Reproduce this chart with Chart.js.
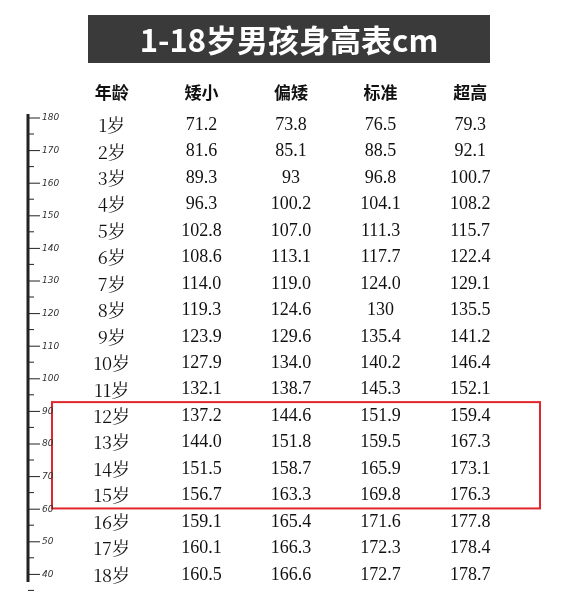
<!DOCTYPE html>
<html><head><meta charset="utf-8">
<script src="https://cdn.jsdelivr.net/npm/chart.js@4"></script>
<style>body{margin:0;background:#fff}#c{display:block}</style>
</head><body>
<div style="width:582px;height:600px"><canvas id="c"></canvas></div>
<script>
const columns = ["年龄", "矮小", "偏矮", "标准", "超高"];
const ages = ["1岁","2岁","3岁","4岁","5岁","6岁","7岁","8岁","9岁","10岁","11岁","12岁","13岁","14岁","15岁","16岁","17岁","18岁"];
const short = ["71.2","81.6","89.3","96.3","102.8","108.6","114.0","119.3","123.9","127.9","132.1","137.2","144.0","151.5","156.7","159.1","160.1","160.5"];
const lower = ["73.8","85.1","93","100.2","107.0","113.1","119.0","124.6","129.6","134.0","138.7","144.6","151.8","158.7","163.3","165.4","166.3","166.6"];
const standard = ["76.5","88.5","96.8","104.1","111.3","117.7","124.0","130","135.4","140.2","145.3","151.9","159.5","165.9","169.8","171.6","172.3","172.7"];
const tall = ["79.3","92.1","100.7","108.2","115.7","122.4","129.1","135.5","141.2","146.4","152.1","159.4","167.3","173.1","176.3","177.8","178.4","178.7"];
const rulerTicks = [180,170,160,150,140,130,120,110,100,90,80,70,60,50,40];
const highlightRows = ["12岁", "15岁"];

const cells = [];
ages.forEach((r, i) => {
  [ages[i], short[i], lower[i], standard[i], tall[i]].forEach((v, j) => cells.push({x: columns[j], y: r, t: v}));
});

const tablePlugin = {
  id: "table",
  afterDatasetsDraw(chart) {
    const ctx = chart.ctx, xs = chart.scales.x, ys = chart.scales.y;
    ctx.save();
    // title banner
    ctx.fillStyle = "#3a3a3a";
    ctx.fillRect(88, 15, 402, 48);
    ctx.fillStyle = "#fff";
    ctx.font = "bold 31px 'Noto Sans CJK SC'";
    ctx.textAlign = "center"; ctx.textBaseline = "middle";
    ctx.fillText("1-18岁男孩身高表cm", 289, 40);
    // header
    ctx.fillStyle = "#111";
    ctx.font = "bold 17px 'Noto Sans CJK SC'";
    columns.forEach((c, j) => ctx.fillText(c, xs.getPixelForValue(j), 93));
    // cells
    cells.forEach(c => {
      const px = xs.getPixelForValue(columns.indexOf(c.x));
      const py = ys.getPixelForValue(ages.indexOf(c.y));
      ctx.font = c.x === "年龄" ? "18px 'Noto Serif CJK SC','Noto Sans CJK SC'" : "18px 'Liberation Serif'";
      ctx.fillText(c.t, px, py);
    });
    // highlight box
    const y1 = ys.getPixelForValue(ages.indexOf(highlightRows[0])) - 14;
    const y2 = ys.getPixelForValue(ages.indexOf(highlightRows[1])) + 13;
    ctx.strokeStyle = "#e0262b"; ctx.lineWidth = 2;
    ctx.strokeRect(52, y1, 488, y2 - y1);
    // ruler
    ctx.strokeStyle = "#222"; ctx.lineWidth = 3;
    ctx.beginPath(); ctx.moveTo(28, 114); ctx.lineTo(28, 582); ctx.stroke();
    ctx.lineWidth = 1;
    ctx.font = "italic 9px 'DejaVu Sans'"; ctx.textAlign = "left";
    rulerTicks.forEach((t, i) => {
      const y = 118 + i * 32.6;
      ctx.beginPath(); ctx.moveTo(28, y); ctx.lineTo(40, y); ctx.stroke();
      ctx.beginPath(); ctx.moveTo(28, y + 16); ctx.lineTo(34, y + 16); ctx.stroke();
      ctx.fillStyle = "#333";
      ctx.fillText(String(t), 42, y);
    });
    ctx.restore();
  }
};

new Chart(document.getElementById("c"), {
  type: "scatter",
  data: {
    datasets: [{
      data: cells.map(c => ({x: c.x, y: c.y})),
      pointRadius: 0
    }]
  },
  options: {
    responsive: true, maintainAspectRatio: false, animation: false,
    layout: {padding: {left: 67, right: 67, top: 112, bottom: 12}},
    plugins: {legend: {display: false}, tooltip: {enabled: false}},
    scales: {
      x: {type: "category", labels: columns, offset: true, display: false},
      y: {type: "category", labels: ages, offset: true, display: false}
    }
  },
  plugins: [tablePlugin]
});
</script>
</body></html>
